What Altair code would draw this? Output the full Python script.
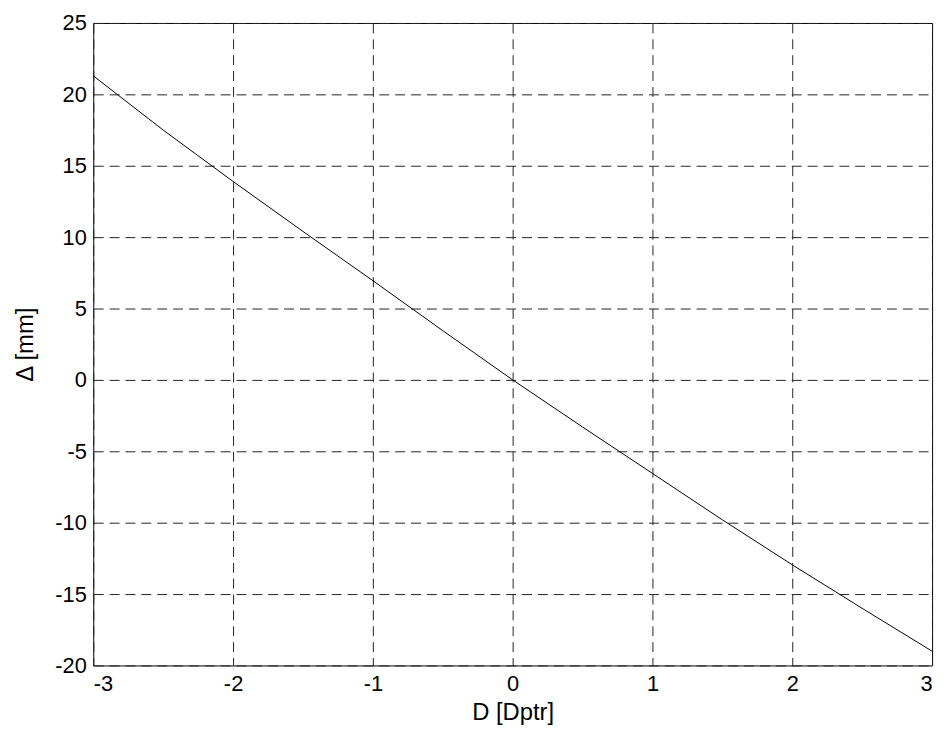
import altair as alt
import pandas as pd

# Values
D_values = [-3.0, -2.5, -2.0, -1.5, -1.0, -0.5, 0.0, 0.5, 1.0, 1.5, 2.0, 2.5, 3.0]
delta_values = [21.3, 17.5, 13.9, 10.4, 6.95, 3.45, 0.0, -3.3, -6.55, -9.8, -12.95, -16.0, -19.0]

x_ticks = [-3, -2, -1, 0, 1, 2, 3]
y_ticks = [-20, -15, -10, -5, 0, 5, 10, 15, 20, 25]

df = pd.DataFrame({"D": D_values, "delta": delta_values})

FONT = "Liberation Sans"

chart = alt.Chart(df).mark_line(color="black", strokeWidth=1).encode(
    x=alt.X("D:Q",
            scale=alt.Scale(domain=[-3, 3], nice=False, zero=False),
            axis=alt.Axis(values=x_ticks, title="D [Dptr]",
                          labelExpr="'' + datum.value",
                          labelPadding=8,
                          titleBaseline="alphabetic", titleY=55)),
    y=alt.Y("delta:Q",
            scale=alt.Scale(domain=[-20, 25], nice=False, zero=False),
            axis=alt.Axis(values=y_ticks, title="Δ [mm]",
                          labelExpr="'' + datum.value",
                          labelPadding=7,
                          titleBaseline="alphabetic", titleAngle=270,
                          titleX=-61, titleY=324)),
).properties(
    width=846,
    height=648,
    background="white",
    autosize=alt.AutoSizeParams(type="none"),
    padding={"left": 86, "top": 12, "right": 6, "bottom": 62},
).configure_view(
    stroke="black", strokeWidth=1
).configure_axis(
    domain=False,
    ticks=False,
    grid=True,
    gridColor="#222222",
    gridDash=[10, 6],
    gridWidth=1,
    gridOpacity=1,
    labelFont=FONT,
    labelFontSize=22,
    labelColor="black",
    titleFont=FONT,
    titleFontSize=24,
    titleFontWeight="normal",
    titleColor="black",
)

chart.save("out.html", embed_options={"renderer": "svg", "actions": False})
